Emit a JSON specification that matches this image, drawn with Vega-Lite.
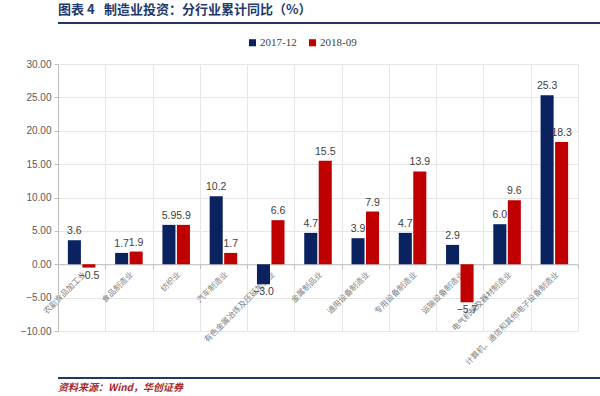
{
  "$schema": "https://vega.github.io/schema/vega-lite/v6.json",
  "background": "white",
  "padding": {"left": 4, "right": 5, "top": 4, "bottom": 0},
  "config": {"view": {"stroke": null}},
  "datasets": {
    "d": [
      {"cat": "农副食品加工业", "series": "2017-12", "v": 3.6},
      {"cat": "农副食品加工业", "series": "2018-09", "v": -0.5},
      {"cat": "食品制造业", "series": "2017-12", "v": 1.7},
      {"cat": "食品制造业", "series": "2018-09", "v": 1.9},
      {"cat": "纺织业", "series": "2017-12", "v": 5.9},
      {"cat": "纺织业", "series": "2018-09", "v": 5.9},
      {"cat": "汽车制造业", "series": "2017-12", "v": 10.2},
      {"cat": "汽车制造业", "series": "2018-09", "v": 1.7},
      {"cat": "有色金属冶炼及压延加工业", "series": "2017-12", "v": -3.0},
      {"cat": "有色金属冶炼及压延加工业", "series": "2018-09", "v": 6.6},
      {"cat": "金属制品业", "series": "2017-12", "v": 4.7},
      {"cat": "金属制品业", "series": "2018-09", "v": 15.5},
      {"cat": "通用设备制造业", "series": "2017-12", "v": 3.9},
      {"cat": "通用设备制造业", "series": "2018-09", "v": 7.9},
      {"cat": "专用设备制造业", "series": "2017-12", "v": 4.7},
      {"cat": "专用设备制造业", "series": "2018-09", "v": 13.9},
      {"cat": "运输设备制造业", "series": "2017-12", "v": 2.9},
      {"cat": "运输设备制造业", "series": "2018-09", "v": -5.7},
      {"cat": "电气机械及器材制造业", "series": "2017-12", "v": 6.0},
      {"cat": "电气机械及器材制造业", "series": "2018-09", "v": 9.6},
      {"cat": "计算机、通信和其他电子设备制造业", "series": "2017-12", "v": 25.3},
      {"cat": "计算机、通信和其他电子设备制造业", "series": "2018-09", "v": 18.3}
    ]
  },
  "spacing": 10,
  "resolve": {"scale": {"color": "independent"}},
  "vconcat": [
    {
      "spacing": 13,
      "resolve": {"scale": {"color": "independent"}},
      "vconcat": [
        {
          "width": 591,
          "height": 2,
          "view": {"fill": "#1f3864", "stroke": null},
          "title": {
            "text": "图表 4 \u2002制造业投资：分行业累计同比（%）",
            "anchor": "start",
            "font": "Noto Sans CJK SC",
            "fontSize": 13,
            "fontWeight": "bold",
            "color": "#1f3a6e",
            "offset": 5
          },
          "data": {"values": []},
          "mark": "rule",
          "encoding": {}
        },
        {
          "width": 520,
          "height": 267,
          "data": {"name": "d"},
          "encoding": {
            "x": {
              "field": "cat",
              "type": "nominal",
              "sort": null,
              "scale": {"paddingInner": 0, "paddingOuter": 0},
              "axis": {
                "title": null,
                "offset": -66.75,
                "labelAngle": -45,
                "labelFontSize": 8,
                "labelColor": "#7f7f7f",
                "labelFont": "Noto Sans CJK SC",
                "tickBand": "extent",
                "tickSize": 4,
                "tickColor": "#bfbfbf",
                "domainColor": "#bfbfbf",
                "grid": true,
                "gridColor": "#e6e6e6",
                "labelPadding": 2,
                "labelOverlap": false,
                "labelLimit": 200
              }
            },
            "xOffset": {
              "field": "series",
              "type": "nominal",
              "scale": {"paddingInner": 0.1, "paddingOuter": 0.68}
            },
            "y": {
              "field": "v",
              "type": "quantitative",
              "scale": {"domain": [-10, 30], "nice": false},
              "axis": {
                "title": null,
                "values": [-10, -5, 0, 5, 10, 15, 20, 25, 30],
                "format": ".2f",
                "labelFont": "Liberation Sans",
                "labelFontSize": 10,
                "labelColor": "#595959",
                "tickSize": 4,
                "tickColor": "#bfbfbf",
                "domainColor": "#bfbfbf",
                "gridColor": "#e6e6e6",
                "minExtent": 54,
                "labelPadding": 3
              }
            }
          },
          "layer": [
            {
              "mark": {"type": "bar"},
              "encoding": {
                "color": {
                  "field": "series",
                  "type": "nominal",
                  "scale": {"domain": ["2017-12", "2018-09"], "range": ["#0b2260", "#c00000"]},
                  "legend": {
                    "orient": "none",
                    "legendX": 189,
                    "legendY": -27,
                    "direction": "horizontal",
                    "title": null,
                    "symbolType": "square",
                    "symbolSize": 50,
                    "symbolStrokeWidth": 0,
                    "labelFont": "Liberation Serif",
                    "labelFontSize": 11,
                    "labelColor": "#404040",
                    "columnPadding": 10,
                    "labelOffset": 2
                  }
                }
              }
            },
            {
              "transform": [{"filter": "datum.v >= 0"}],
              "mark": {"type": "text", "baseline": "bottom", "dy": -4, "font": "Liberation Sans", "fontSize": 10.5, "color": "#404040"},
              "encoding": {"text": {"field": "v", "type": "quantitative", "format": ".1f"}}
            },
            {
              "transform": [{"filter": "datum.v < 0"}],
              "mark": {"type": "text", "baseline": "top", "dy": 3, "font": "Liberation Sans", "fontSize": 10.5, "color": "#404040"},
              "encoding": {"text": {"field": "v", "type": "quantitative", "format": ".1f"}}
            }
          ]
        }
      ]
    },
    {
      "width": 591,
      "height": 2,
      "view": {"fill": "#1f3864", "stroke": null},
      "title": {
        "text": "资料来源：Wind，华创证券",
        "orient": "bottom",
        "anchor": "start",
        "font": "Noto Sans CJK SC",
        "fontSize": 10,
        "fontStyle": "italic",
        "color": "#a52a2a",
        "offset": 4
      },
      "data": {"values": []},
      "mark": "rule",
      "encoding": {}
    }
  ]
}
